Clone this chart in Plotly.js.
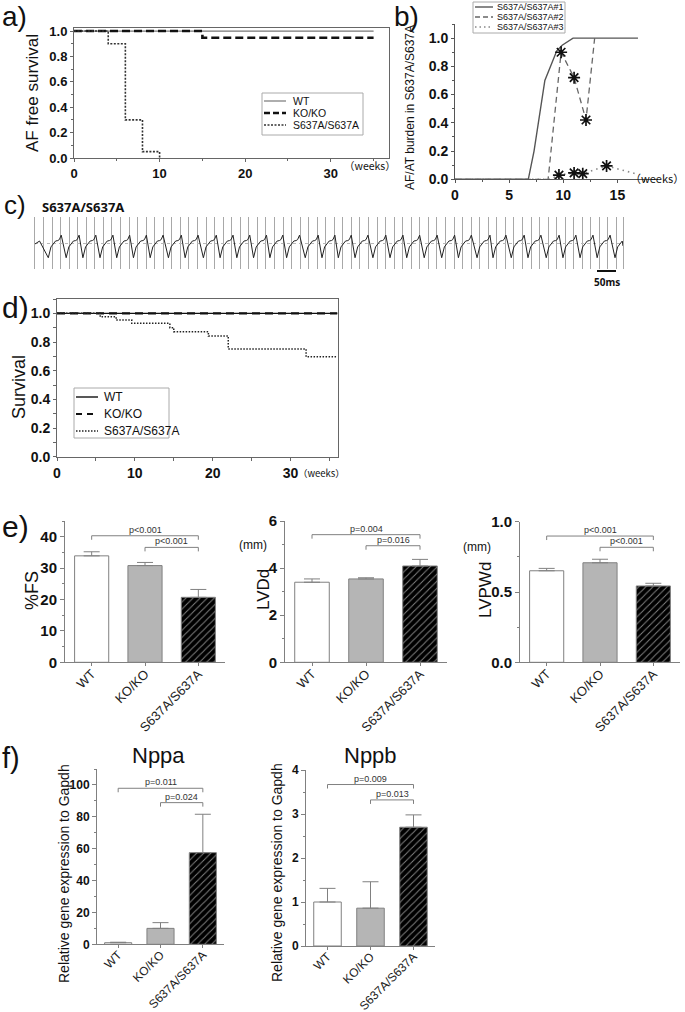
<!DOCTYPE html>
<html>
<head>
<meta charset="utf-8">
<script src="https://cdn.plot.ly/plotly-3.0.1.min.js"></script>
<style>
  body { margin: 0; background: #fff; }
  #fig { width: 685px; height: 1012px; }
</style>
</head>
<body>
<div id="fig"></div>
<script>
// ---- data ----

// a) AF free survival (Kaplan-Meier steps)
const afWtWeeks = [0, 35];
const afWtSurv = [1, 1];
const afKoWeeks = [0, 15, 35];
const afKoSurv = [1, 0.947, 0.947];
const afSaWeeks = [0, 4, 6, 8, 10];
const afSaSurv = [1, 0.9, 0.3, 0.05, 0];

// b) AF/AT burden in three S637A/S637A mice
const burden1Weeks = [0, 6.77, 7.3, 8.3, 9.4, 9.9, 10.9, 16.9];
const burden1 = [0, 0, 0.2, 0.7, 0.91, 0.95, 1.0, 1.0];
const burden2Weeks = [0, 8.6, 9.8, 11.0, 12.1, 12.9];
const burden2 = [0, 0, 0.9, 0.72, 0.42, 1.0];
const burden3Weeks = [0, 8.8, 9.6, 11.0, 11.8, 14.0, 16.9];
const burden3 = [0, 0, 0.03, 0.045, 0.04, 0.095, 0.035];
const star2Weeks = [9.8, 11.0, 12.1];
const star2 = [0.9, 0.72, 0.42];
const star3Weeks = [9.6, 11.0, 11.8, 14.0];
const star3 = [0.03, 0.045, 0.04, 0.095];

// c) ECG: spike times (ms) and one beat shape (offset ms after spike, amplitude)
const ecgSpikesMs = [35, 82, 126, 171, 215, 259, 303, 351, 395, 443, 487, 531, 575, 618, 662, 711,
  755, 798, 842, 889, 934, 978, 1024, 1070, 1114, 1163, 1205, 1253, 1297, 1345, 1389, 1434, 1479, 1526];
const beatOffsetMs = [0, 7, 13, 19, 25, 29, 34];
const beatAmp = [-15, -4, -1, 2, 2.5, 3.5, 8];
const ecgLeadMs = [0, 12];
const ecgLeadAmp = [-1, 2];
const ecgEndMs = 1547;
const ecgEndAmp = -3;

// d) overall survival
const svWtWeeks = [0, 36];
const svWtSurv = [1, 1];
const svKoWeeks = [0, 36];
const svKoSurv = [1, 1];
const svSaWeeks = [0, 5.55, 7.6, 9.6, 14.5, 15.0, 19.45, 22.0, 32.0, 36];
const svSaSurv = [1, 0.976, 0.953, 0.930, 0.90, 0.872, 0.842, 0.751, 0.697, 0.697];

// e) / f) bar panels
const groups = ['WT', 'KO/KO', 'S637A/S637A'];
const fsMean = [33.9, 30.8, 20.7];
const fsSem = [1.3, 1.0, 2.5];
const fsP = ['p<0.001', 'p<0.001'];
const lvddMean = [3.40, 3.54, 4.09];
const lvddSem = [0.14, 0.05, 0.28];
const lvddP = ['p=0.004', 'p=0.016'];
const lvpwdMean = [0.651, 0.708, 0.543];
const lvpwdSem = [0.017, 0.025, 0.019];
const lvpwdP = ['p<0.001', 'p<0.001'];
const nppaMean = [1.0, 10.0, 57.5];
const nppaSem = [0.3, 3.6, 24.1];
const nppaP = ['p=0.011', 'p=0.024'];
const nppbMean = [1.0, 0.86, 2.70];
const nppbSem = [0.31, 0.60, 0.28];
const nppbP = ['p=0.009', 'p=0.013'];
const bracketPairs = [[0, 2], [1, 2]];

// ---- helpers: pixel positions -> paper fractions ----
const W = 685, H = 1012;
const px = v => v / W;
const py = v => 1 - v / H;
const dx = (a, b) => [a / W, b / W];
const dy = (top, bottom) => [1 - bottom / H, 1 - top / H];

const SANS = 'Liberation Sans, Arial, sans-serif';
const ROUND = 'Noto Sans, Liberation Sans, sans-serif';
const JP = 'Noto Sans CJK JP, Noto Sans, sans-serif';

// build the ECG polyline from the beat shape
const ecgT = ecgLeadMs.slice();
const ecgV = ecgLeadAmp.slice();
ecgSpikesMs.forEach((s, i) => {
  const next = i + 1 < ecgSpikesMs.length ? ecgSpikesMs[i + 1] : ecgEndMs;
  beatOffsetMs.forEach((o, j) => {
    if (s + o < next) { ecgT.push(s + o); ecgV.push(beatAmp[j]); }
  });
});
ecgT.push(ecgEndMs);
ecgV.push(ecgEndAmp);

const traces = [];
function lineTrace(x, y, ax, style, extra) {
  const t = {
    x: x, y: y, xaxis: 'x' + ax, yaxis: 'y' + ax, type: 'scatter', mode: 'lines',
    showlegend: false, hoverinfo: 'skip'
  };
  if (style) t.line = style;
  return Object.assign(t, extra || {});
}

// line styles shared by plot and hand-made legends
const sty = {
  aWt: { color: '#777', width: 1.2 },
  aKo: { color: '#111', width: 2.6, dash: '8px,4px' },
  aSa: { color: '#333', width: 1.6, dash: '2px,1.5px' },
  b1: { color: '#555', width: 1.4 },
  b2: { color: '#666', width: 1.3, dash: '6px,4px' },
  b3: { color: '#888', width: 1.6, dash: '1.5px,4px' },
  dWt: { color: '#111', width: 1.4 },
  dKo: { color: '#111', width: 2.2, dash: '8px,5px' },
  dSa: { color: '#222', width: 1.5, dash: '1.5px,1.5px' }
};
const hv = s => Object.assign({ shape: 'hv' }, s);

// a
traces.push(lineTrace(afWtWeeks, afWtSurv, '', hv(sty.aWt)));
traces.push(lineTrace(afKoWeeks, afKoSurv, '', hv(sty.aKo)));
traces.push(lineTrace(afSaWeeks, afSaSurv, '', hv(sty.aSa)));

// b
traces.push(lineTrace(burden1Weeks, burden1, 2, sty.b1));
traces.push(lineTrace(burden2Weeks, burden2, 2, sty.b2));
traces.push(lineTrace(burden3Weeks, burden3, 2, sty.b3));
const starMarker = { symbol: 'asterisk-open', size: 10, color: '#111', line: { color: '#111', width: 1.7 } };
traces.push(lineTrace(star2Weeks, star2, 2, null, { mode: 'markers', marker: starMarker }));
traces.push(lineTrace(star3Weeks, star3, 2, null, { mode: 'markers', marker: starMarker }));

// c
traces.push(lineTrace(ecgT, ecgV, 3, { color: '#222', width: 1 }));

// d
traces.push(lineTrace(svWtWeeks, svWtSurv, 4, hv(sty.dWt)));
traces.push(lineTrace(svKoWeeks, svKoSurv, 4, hv(sty.dKo)));
traces.push(lineTrace(svSaWeeks, svSaSurv, 4, hv(sty.dSa)));

// e, f bars
function barTrace(n, means, sems) {
  return {
    type: 'bar', x: groups, y: means, xaxis: 'x' + n, yaxis: 'y' + n, width: 0.64,
    showlegend: false, hoverinfo: 'skip',
    marker: {
      color: ['#ffffff', '#b5b5b5', '#000000'],
      line: { color: '#808080', width: 1 },
      pattern: { shape: ['', '', '/'], fillmode: 'overlay', fgcolor: '#3c3c3c', size: 5, solidity: 0.2 }
    },
    error_y: { type: 'data', symmetric: false, array: sems, arrayminus: [0, 0, 0],
      color: '#808080', thickness: 1, width: 8 }
  };
}
traces.push(barTrace(5, fsMean, fsSem));
traces.push(barTrace(6, lvddMean, lvddSem));
traces.push(barTrace(7, lvpwdMean, lvpwdSem));
traces.push(barTrace(8, nppaMean, nppaSem));
traces.push(barTrace(9, nppbMean, nppbSem));

// ---- axes ----
function lineAxis(anchor, dom, range, opts) {
  return Object.assign({
    domain: dom, anchor: anchor, range: range, showgrid: false, zeroline: false,
    showline: true, linecolor: '#666', linewidth: 1, ticks: 'outside', ticklen: 3,
    tickcolor: '#666', fixedrange: true
  }, opts);
}
const boldTick = size => ({ family: SANS, size: size, color: '#111', weight: 'bold' });

function barX(n, a, b, size) {
  return {
    domain: dx(a, b), anchor: 'y' + n, type: 'category', range: [-0.5, 2.5], tickangle: -45,
    ticks: 'outside', ticklen: 3, tickcolor: '#808080', showline: true, linecolor: '#808080',
    showgrid: false, zeroline: false, fixedrange: true, ticklabelstandoff: -5,
    tickfont: { family: SANS, size: size, color: '#222' }
  };
}
function barY(n, top, bottom, range, dtick, minor, fmt, size) {
  return {
    domain: dy(top, bottom), anchor: 'x' + n, range: range, dtick: dtick, tick0: 0,
    tickformat: fmt, ticks: 'outside', ticklen: 4, tickcolor: '#808080',
    minor: { dtick: minor, ticklen: 2, tickcolor: '#808080' },
    showline: true, linecolor: '#808080', showgrid: false, zeroline: false, fixedrange: true,
    tickfont: boldTick(size)
  };
}

const layout = {
  width: W, height: H, margin: { l: 0, r: 0, t: 0, b: 0 },
  paper_bgcolor: '#fff', plot_bgcolor: 'rgba(0,0,0,0)',
  font: { family: SANS, color: '#111' },
  showlegend: false,
  // a
  xaxis: lineAxis('y', dx(74, 389), [0, 36.8], {
    mirror: true, tickvals: [0, 10, 20, 30], minor: { tickvals: [5, 15, 25, 35], ticklen: 2, tickcolor: '#666' },
    tickfont: boldTick(13)
  }),
  yaxis: lineAxis('x', dy(28, 158), [0, 1.024], {
    mirror: true, dtick: 0.2, tick0: 0, tickformat: '.1f', minor: { dtick: 0.1, ticklen: 2, tickcolor: '#666' },
    tickfont: boldTick(13)
  }),
  // b
  xaxis2: lineAxis('y2', dx(455, 658), [0, 18.75], {
    tickvals: [0, 5, 10, 15], minor: { dtick: 2.5, ticklen: 2, tickcolor: '#555' },
    linecolor: '#555', tickcolor: '#555', tickfont: boldTick(14)
  }),
  yaxis2: lineAxis('x2', dy(24, 179.3), [0, 1.1], {
    dtick: 0.2, tick0: 0, tickformat: '.1f', minor: { dtick: 0.1, ticklen: 2, tickcolor: '#555' },
    linecolor: '#555', tickcolor: '#555', tickfont: boldTick(14)
  }),
  // c
  xaxis3: {
    domain: dx(35, 623), anchor: 'y3', range: [0, ecgEndMs], showline: false, zeroline: false,
    showgrid: true, gridcolor: '#a8a8a8', gridwidth: 1, tick0: 0, dtick: 22.5,
    showticklabels: false, ticks: '', fixedrange: true
  },
  yaxis3: {
    domain: dy(217, 269), anchor: 'x3', range: [-26.5, 26.5], showline: true, mirror: true,
    linecolor: '#a8a8a8', zeroline: false, showgrid: true, gridcolor: '#b8b8b8', griddash: 'dot',
    tickvals: [-26, 0, 26], showticklabels: false, ticks: '', fixedrange: true
  },
  // d
  xaxis4: lineAxis('y4', dx(57, 338), [0, 36.1], {
    mirror: true, tickvals: [0, 10, 20, 30], minor: { tickvals: [5, 15, 25, 35], ticklen: 3, tickcolor: '#666' },
    tickfont: boldTick(14)
  }),
  yaxis4: lineAxis('x4', dy(299, 456.7), [0, 1.1], {
    mirror: true, dtick: 0.2, tick0: 0, tickformat: '.1f', minor: { dtick: 0.1, ticklen: 3, tickcolor: '#666' },
    tickfont: boldTick(14)
  }),
  // e
  xaxis5: barX(5, 65, 225, 13),
  yaxis5: barY(5, 521, 662.3, [0, 45], 10, 5, 'd', 15),
  xaxis6: barX(6, 285, 447, 13),
  yaxis6: barY(6, 521, 662.3, [0, 6], 2, 1, 'd', 15),
  xaxis7: barX(7, 520, 680, 13),
  yaxis7: barY(7, 521.7, 662.3, [0, 1], 0.5, 0.25, '.1f', 15),
  // f
  xaxis8: barX(8, 97, 224, 12),
  yaxis8: barY(8, 769, 944.3, [0, 110], 20, 10, 'd', 12),
  xaxis9: barX(9, 306, 435, 12),
  yaxis9: barY(9, 770, 946, [0, 4], 1, 0.5, 'd', 12),
  shapes: [],
  annotations: []
};

const ann = layout.annotations;
const shp = layout.shapes;
function text(t, x, y, font, extra) {
  ann.push(Object.assign({ text: t, xref: 'paper', yref: 'paper', x: px(x), y: py(y),
    showarrow: false, xanchor: 'center', yanchor: 'middle', font: font }, extra || {}));
}
function vtext(t, x, y, font) { text(t, x, y, font, { textangle: -90 }); }

// panel letters
const letterFont = s => ({ family: SANS, size: s, color: '#111' });
text('a)', 0, 16, letterFont(28), { xanchor: 'left' });
text('b)', 392, 16, letterFont(28), { xanchor: 'left' });
text('c)', 2, 205, letterFont(26), { xanchor: 'left' });
text('d)', 0, 307, letterFont(30), { xanchor: 'left' });
text('e)', 0, 526, letterFont(30), { xanchor: 'left' });
text('f)', 0, 758, letterFont(29), { xanchor: 'left' });

// axis titles
const tf = s => ({ family: SANS, size: s, color: '#111' });
vtext('AF free survival', 32, 93, tf(17));
vtext('AF/AT burden in S637A/S637A', 410, 108, tf(12));
vtext('Survival', 19, 387, tf(18));
vtext('%FS', 32, 590, tf(18));
vtext('LVDd', 263, 590, tf(17));
vtext('LVPWd', 485, 590, tf(17));
vtext('Relative gene expression to Gapdh', 64, 873, tf(14));
vtext('Relative gene expression to Gapdh', 277, 873, tf(14));
text('(mm)', 253, 545, tf(12));
text('(mm)', 477, 547, tf(12));
text('Nppa', 158, 755, tf(22));
text('Nppb', 370, 755, tf(22));
text('（weeks）', 370, 166, { family: JP, size: 10.5, color: '#111' });
text('（weeks）', 657, 178, { family: JP, size: 11, color: '#111' });
text('（weeks）', 321, 473, { family: JP, size: 9.5, color: '#111' });

// c) title and 50 ms scale bar
text('S637A/S637A', 40, 207, { family: ROUND, size: 13, color: '#111', weight: 'bold' }, { xanchor: 'left' });
shp.push({ type: 'line', xref: 'paper', yref: 'paper', x0: px(597), x1: px(616), y0: py(271), y1: py(271),
  line: { color: '#111', width: 2 } });
text('50ms', 607, 282, { family: ROUND, size: 10, color: '#111', weight: 'bold' });

// hand-drawn legends (boxes are small and tightly spaced in the original)
function miniLegend(box, rows, font) {
  shp.push({ type: 'rect', xref: 'paper', yref: 'paper', x0: px(box[0]), x1: px(box[2]),
    y0: py(box[3]), y1: py(box[1]), line: { color: '#aaa', width: 1 }, fillcolor: 'rgba(0,0,0,0)' });
  rows.forEach(r => {
    shp.push({ type: 'line', xref: 'paper', yref: 'paper', x0: px(r.x0), x1: px(r.x1), y0: py(r.y), y1: py(r.y),
      line: r.line });
    text(r.label, r.tx, r.y, font, { xanchor: 'left' });
  });
}
miniLegend([262, 93, 363, 135], [
  { label: 'WT', x0: 264, x1: 286, tx: 291, y: 101, line: sty.aWt },
  { label: 'KO/KO', x0: 264, x1: 286, tx: 291, y: 113, line: Object.assign({}, sty.aKo, { dash: '6px,3px' }) },
  { label: 'S637A/S637A', x0: 264, x1: 286, tx: 291, y: 125, line: sty.aSa }
], { family: SANS, size: 10.5, color: '#111' });
miniLegend([473, 2, 565, 33], [
  { label: 'S637A/S637A#1', x0: 475, x1: 493, tx: 495, y: 7, line: sty.b1 },
  { label: 'S637A/S637A#2', x0: 475, x1: 493, tx: 495, y: 17, line: Object.assign({}, sty.b2, { dash: '5px,3px' }) },
  { label: 'S637A/S637A#3', x0: 475, x1: 493, tx: 495, y: 27, line: Object.assign({}, sty.b3, { dash: '1.5px,3px' }) }
], { family: SANS, size: 9, color: '#111' });
miniLegend([74, 388, 169, 438], [
  { label: 'WT', x0: 76, x1: 98, tx: 102, y: 397, line: sty.dWt },
  { label: 'KO/KO', x0: 76, x1: 98, tx: 102, y: 414, line: Object.assign({}, sty.dKo, { dash: '6px,5px' }) },
  { label: 'S637A/S637A', x0: 76, x1: 98, tx: 102, y: 431, line: sty.dSa }
], { family: SANS, size: 12, color: '#111' });

// significance brackets
function brackets(n, levels, labels) {
  bracketPairs.forEach((pair, i) => {
    const lv = levels[i];
    const base = { xref: 'x' + n, yref: 'y' + n, type: 'line', line: { color: '#808080', width: 1 } };
    shp.push(Object.assign({}, base, { x0: pair[0], x1: pair[1], y0: lv, y1: lv }));
    pair.forEach(c => shp.push(Object.assign({}, base, {
      x0: c, x1: c, ysizemode: 'pixel', yanchor: lv, y0: 0, y1: -4 })));
    ann.push({ xref: 'x' + n, yref: 'y' + n, x: (pair[0] + pair[1]) / 2, y: lv, yanchor: 'bottom',
      yshift: -1, showarrow: false, text: labels[i].replace('<', '&lt;'),
      font: { family: SANS, size: 9, color: '#333' } });
  });
}
brackets(5, [40.3, 36.6], fsP);
brackets(6, [5.42, 4.95], lvddP);
brackets(7, [0.898, 0.818], lvpwdP);
brackets(8, [97.9, 88.9], nppaP);
brackets(9, [3.67, 3.32], nppbP);

Plotly.newPlot('fig', traces, layout, { staticPlot: true });
</script>
</body>
</html>
